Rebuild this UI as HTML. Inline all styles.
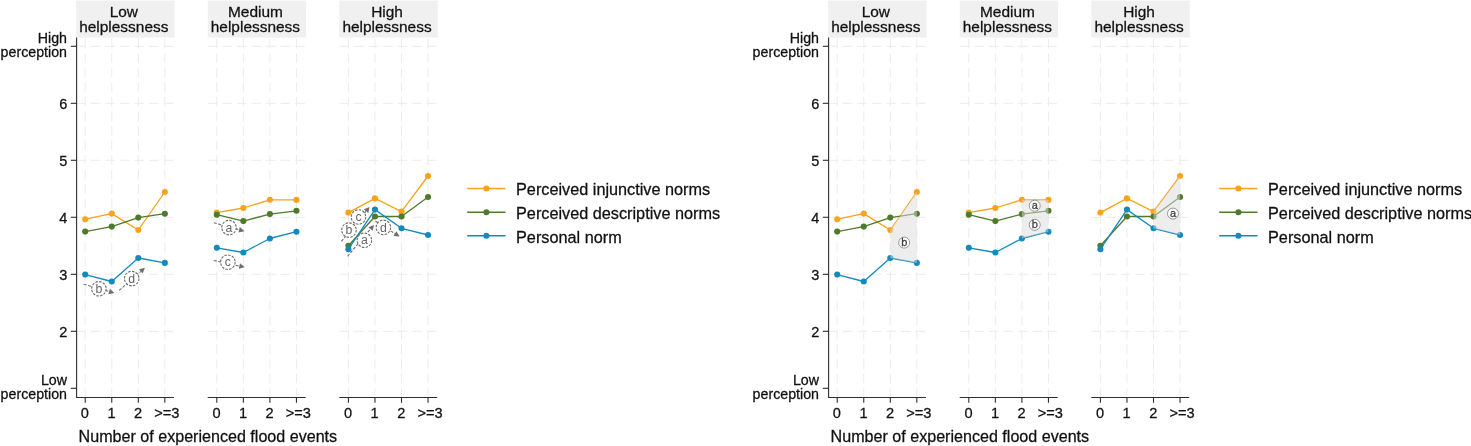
<!DOCTYPE html>
<html><head><meta charset="utf-8"><title>Norm perception by flood experience</title>
<style>html,body{margin:0;padding:0;background:#fff;}svg{display:block;}</style></head>
<body><svg width="1471" height="446" viewBox="0 0 1471 446">
<rect width="1471" height="446" fill="#ffffff"/>
<g transform="translate(0,0)"><rect x="76.1" y="0.6" width="98.4" height="37.0" fill="#f0f0f0"/><text x="123.8" y="17.0" font-size="15.45" text-anchor="middle" fill="#111111" font-family="Liberation Sans, Arial, sans-serif" stroke="#111111" stroke-width="0.27">Low</text><text x="123.8" y="32.4" font-size="15.45" text-anchor="middle" fill="#111111" font-family="Liberation Sans, Arial, sans-serif" stroke="#111111" stroke-width="0.27">helplessness</text><rect x="207.7" y="0.6" width="98.4" height="37.0" fill="#f0f0f0"/><text x="255.4" y="17.0" font-size="15.45" text-anchor="middle" fill="#111111" font-family="Liberation Sans, Arial, sans-serif" stroke="#111111" stroke-width="0.27">Medium</text><text x="255.4" y="32.4" font-size="15.45" text-anchor="middle" fill="#111111" font-family="Liberation Sans, Arial, sans-serif" stroke="#111111" stroke-width="0.27">helplessness</text><rect x="339.3" y="0.6" width="98.4" height="37.0" fill="#f0f0f0"/><text x="387.0" y="17.0" font-size="15.45" text-anchor="middle" fill="#111111" font-family="Liberation Sans, Arial, sans-serif" stroke="#111111" stroke-width="0.27">High</text><text x="387.0" y="32.4" font-size="15.45" text-anchor="middle" fill="#111111" font-family="Liberation Sans, Arial, sans-serif" stroke="#111111" stroke-width="0.27">helplessness</text><line x1="76.2" y1="46.3" x2="174.0" y2="46.3" stroke="#ececec" stroke-width="1" stroke-dasharray="9.7 4.86"/><line x1="76.2" y1="103.3" x2="174.0" y2="103.3" stroke="#ececec" stroke-width="1" stroke-dasharray="9.7 4.86"/><line x1="76.2" y1="160.3" x2="174.0" y2="160.3" stroke="#ececec" stroke-width="1" stroke-dasharray="9.7 4.86"/><line x1="76.2" y1="217.3" x2="174.0" y2="217.3" stroke="#ececec" stroke-width="1" stroke-dasharray="9.7 4.86"/><line x1="76.2" y1="274.3" x2="174.0" y2="274.3" stroke="#ececec" stroke-width="1" stroke-dasharray="9.7 4.86"/><line x1="76.2" y1="331.3" x2="174.0" y2="331.3" stroke="#ececec" stroke-width="1" stroke-dasharray="9.7 4.86"/><line x1="85.20" y1="38.7" x2="85.20" y2="396.8" stroke="#ececec" stroke-width="1" stroke-dasharray="9.7 4.86"/><line x1="111.75" y1="38.7" x2="111.75" y2="396.8" stroke="#ececec" stroke-width="1" stroke-dasharray="9.7 4.86"/><line x1="138.30" y1="38.7" x2="138.30" y2="396.8" stroke="#ececec" stroke-width="1" stroke-dasharray="9.7 4.86"/><line x1="164.85" y1="38.7" x2="164.85" y2="396.8" stroke="#ececec" stroke-width="1" stroke-dasharray="9.7 4.86"/><line x1="207.8" y1="46.3" x2="305.6" y2="46.3" stroke="#ececec" stroke-width="1" stroke-dasharray="9.7 4.86"/><line x1="207.8" y1="103.3" x2="305.6" y2="103.3" stroke="#ececec" stroke-width="1" stroke-dasharray="9.7 4.86"/><line x1="207.8" y1="160.3" x2="305.6" y2="160.3" stroke="#ececec" stroke-width="1" stroke-dasharray="9.7 4.86"/><line x1="207.8" y1="217.3" x2="305.6" y2="217.3" stroke="#ececec" stroke-width="1" stroke-dasharray="9.7 4.86"/><line x1="207.8" y1="274.3" x2="305.6" y2="274.3" stroke="#ececec" stroke-width="1" stroke-dasharray="9.7 4.86"/><line x1="207.8" y1="331.3" x2="305.6" y2="331.3" stroke="#ececec" stroke-width="1" stroke-dasharray="9.7 4.86"/><line x1="216.80" y1="38.7" x2="216.80" y2="396.8" stroke="#ececec" stroke-width="1" stroke-dasharray="9.7 4.86"/><line x1="243.35" y1="38.7" x2="243.35" y2="396.8" stroke="#ececec" stroke-width="1" stroke-dasharray="9.7 4.86"/><line x1="269.90" y1="38.7" x2="269.90" y2="396.8" stroke="#ececec" stroke-width="1" stroke-dasharray="9.7 4.86"/><line x1="296.45" y1="38.7" x2="296.45" y2="396.8" stroke="#ececec" stroke-width="1" stroke-dasharray="9.7 4.86"/><line x1="339.4" y1="46.3" x2="437.2" y2="46.3" stroke="#ececec" stroke-width="1" stroke-dasharray="9.7 4.86"/><line x1="339.4" y1="103.3" x2="437.2" y2="103.3" stroke="#ececec" stroke-width="1" stroke-dasharray="9.7 4.86"/><line x1="339.4" y1="160.3" x2="437.2" y2="160.3" stroke="#ececec" stroke-width="1" stroke-dasharray="9.7 4.86"/><line x1="339.4" y1="217.3" x2="437.2" y2="217.3" stroke="#ececec" stroke-width="1" stroke-dasharray="9.7 4.86"/><line x1="339.4" y1="274.3" x2="437.2" y2="274.3" stroke="#ececec" stroke-width="1" stroke-dasharray="9.7 4.86"/><line x1="339.4" y1="331.3" x2="437.2" y2="331.3" stroke="#ececec" stroke-width="1" stroke-dasharray="9.7 4.86"/><line x1="348.40" y1="38.7" x2="348.40" y2="396.8" stroke="#ececec" stroke-width="1" stroke-dasharray="9.7 4.86"/><line x1="374.95" y1="38.7" x2="374.95" y2="396.8" stroke="#ececec" stroke-width="1" stroke-dasharray="9.7 4.86"/><line x1="401.50" y1="38.7" x2="401.50" y2="396.8" stroke="#ececec" stroke-width="1" stroke-dasharray="9.7 4.86"/><line x1="428.05" y1="38.7" x2="428.05" y2="396.8" stroke="#ececec" stroke-width="1" stroke-dasharray="9.7 4.86"/><line x1="76.6" y1="37.6" x2="76.6" y2="397.8" stroke="#2e2e2e" stroke-width="1.1"/><line x1="70.8" y1="46.3" x2="76.6" y2="46.3" stroke="#2e2e2e" stroke-width="1.1"/><line x1="70.8" y1="103.3" x2="76.6" y2="103.3" stroke="#2e2e2e" stroke-width="1.1"/><line x1="70.8" y1="160.3" x2="76.6" y2="160.3" stroke="#2e2e2e" stroke-width="1.1"/><line x1="70.8" y1="217.3" x2="76.6" y2="217.3" stroke="#2e2e2e" stroke-width="1.1"/><line x1="70.8" y1="274.3" x2="76.6" y2="274.3" stroke="#2e2e2e" stroke-width="1.1"/><line x1="70.8" y1="331.3" x2="76.6" y2="331.3" stroke="#2e2e2e" stroke-width="1.1"/><line x1="70.8" y1="388.3" x2="76.6" y2="388.3" stroke="#2e2e2e" stroke-width="1.1"/><text x="67.4" y="108.6" font-size="14.5" text-anchor="end" fill="#111111" font-family="Liberation Sans, Arial, sans-serif" stroke="#111111" stroke-width="0.27">6</text><text x="67.4" y="165.6" font-size="14.5" text-anchor="end" fill="#111111" font-family="Liberation Sans, Arial, sans-serif" stroke="#111111" stroke-width="0.27">5</text><text x="67.4" y="222.6" font-size="14.5" text-anchor="end" fill="#111111" font-family="Liberation Sans, Arial, sans-serif" stroke="#111111" stroke-width="0.27">4</text><text x="67.4" y="279.6" font-size="14.5" text-anchor="end" fill="#111111" font-family="Liberation Sans, Arial, sans-serif" stroke="#111111" stroke-width="0.27">3</text><text x="67.4" y="336.6" font-size="14.5" text-anchor="end" fill="#111111" font-family="Liberation Sans, Arial, sans-serif" stroke="#111111" stroke-width="0.27">2</text><text transform="translate(67.0,42.9) scale(1.035,1)" font-size="13.75" text-anchor="end" fill="#111111" font-family="Liberation Sans, Arial, sans-serif" stroke="#111111" stroke-width="0.27">High</text><text transform="translate(67.0,57.1) scale(1.035,1)" font-size="13.75" text-anchor="end" fill="#111111" font-family="Liberation Sans, Arial, sans-serif" stroke="#111111" stroke-width="0.27">perception</text><text transform="translate(67.0,384.9) scale(1.035,1)" font-size="13.75" text-anchor="end" fill="#111111" font-family="Liberation Sans, Arial, sans-serif" stroke="#111111" stroke-width="0.27">Low</text><text transform="translate(67.0,399.0) scale(1.035,1)" font-size="13.75" text-anchor="end" fill="#111111" font-family="Liberation Sans, Arial, sans-serif" stroke="#111111" stroke-width="0.27">perception</text><line x1="76.1" y1="397.45" x2="174.0" y2="397.45" stroke="#2e2e2e" stroke-width="1.1"/><line x1="85.20" y1="397.3" x2="85.20" y2="402.8" stroke="#2e2e2e" stroke-width="1.1"/><text x="84.9" y="418.2" font-size="14.6" text-anchor="middle" fill="#111111" font-family="Liberation Sans, Arial, sans-serif" stroke="#111111" stroke-width="0.27">0</text><line x1="111.75" y1="397.3" x2="111.75" y2="402.8" stroke="#2e2e2e" stroke-width="1.1"/><text x="111.5" y="418.2" font-size="14.6" text-anchor="middle" fill="#111111" font-family="Liberation Sans, Arial, sans-serif" stroke="#111111" stroke-width="0.27">1</text><line x1="138.30" y1="397.3" x2="138.30" y2="402.8" stroke="#2e2e2e" stroke-width="1.1"/><text x="138.0" y="418.2" font-size="14.6" text-anchor="middle" fill="#111111" font-family="Liberation Sans, Arial, sans-serif" stroke="#111111" stroke-width="0.27">2</text><line x1="164.85" y1="397.3" x2="164.85" y2="402.8" stroke="#2e2e2e" stroke-width="1.1"/><text x="166.8" y="418.2" font-size="14.6" text-anchor="middle" fill="#111111" font-family="Liberation Sans, Arial, sans-serif" stroke="#111111" stroke-width="0.27">&gt;=3</text><line x1="207.7" y1="397.45" x2="305.6" y2="397.45" stroke="#2e2e2e" stroke-width="1.1"/><line x1="216.80" y1="397.3" x2="216.80" y2="402.8" stroke="#2e2e2e" stroke-width="1.1"/><text x="216.5" y="418.2" font-size="14.6" text-anchor="middle" fill="#111111" font-family="Liberation Sans, Arial, sans-serif" stroke="#111111" stroke-width="0.27">0</text><line x1="243.35" y1="397.3" x2="243.35" y2="402.8" stroke="#2e2e2e" stroke-width="1.1"/><text x="243.0" y="418.2" font-size="14.6" text-anchor="middle" fill="#111111" font-family="Liberation Sans, Arial, sans-serif" stroke="#111111" stroke-width="0.27">1</text><line x1="269.90" y1="397.3" x2="269.90" y2="402.8" stroke="#2e2e2e" stroke-width="1.1"/><text x="269.6" y="418.2" font-size="14.6" text-anchor="middle" fill="#111111" font-family="Liberation Sans, Arial, sans-serif" stroke="#111111" stroke-width="0.27">2</text><line x1="296.45" y1="397.3" x2="296.45" y2="402.8" stroke="#2e2e2e" stroke-width="1.1"/><text x="298.4" y="418.2" font-size="14.6" text-anchor="middle" fill="#111111" font-family="Liberation Sans, Arial, sans-serif" stroke="#111111" stroke-width="0.27">&gt;=3</text><line x1="339.3" y1="397.45" x2="437.2" y2="397.45" stroke="#2e2e2e" stroke-width="1.1"/><line x1="348.40" y1="397.3" x2="348.40" y2="402.8" stroke="#2e2e2e" stroke-width="1.1"/><text x="348.1" y="418.2" font-size="14.6" text-anchor="middle" fill="#111111" font-family="Liberation Sans, Arial, sans-serif" stroke="#111111" stroke-width="0.27">0</text><line x1="374.95" y1="397.3" x2="374.95" y2="402.8" stroke="#2e2e2e" stroke-width="1.1"/><text x="374.6" y="418.2" font-size="14.6" text-anchor="middle" fill="#111111" font-family="Liberation Sans, Arial, sans-serif" stroke="#111111" stroke-width="0.27">1</text><line x1="401.50" y1="397.3" x2="401.50" y2="402.8" stroke="#2e2e2e" stroke-width="1.1"/><text x="401.2" y="418.2" font-size="14.6" text-anchor="middle" fill="#111111" font-family="Liberation Sans, Arial, sans-serif" stroke="#111111" stroke-width="0.27">2</text><line x1="428.05" y1="397.3" x2="428.05" y2="402.8" stroke="#2e2e2e" stroke-width="1.1"/><text x="430.1" y="418.2" font-size="14.6" text-anchor="middle" fill="#111111" font-family="Liberation Sans, Arial, sans-serif" stroke="#111111" stroke-width="0.27">&gt;=3</text><text x="78.6" y="442.3" font-size="16.1" fill="#111111" font-family="Liberation Sans, Arial, sans-serif" stroke="#111111" stroke-width="0.27">Number of experienced flood events</text><line x1="83.7" y1="284.2" x2="109.1" y2="291.5" stroke="#6e6e6e" stroke-width="1.1" stroke-dasharray="3 1.5"/><polygon points="114.3,293.0 108.3,294.2 109.9,288.8" fill="#6e6e6e"/><circle cx="98.9" cy="288.8" r="7.25" fill="#ffffff" stroke="#6e6e6e" stroke-width="1.15" stroke-dasharray="2.5 1.3"/><text x="98.9" y="292.9" font-size="12.3" text-anchor="middle" fill="#666666" stroke="#666666" stroke-width="0" font-family="Liberation Sans, Arial, sans-serif">b</text><line x1="119.2" y1="290.4" x2="140.9" y2="271.3" stroke="#6e6e6e" stroke-width="1.1" stroke-dasharray="3 1.5"/><polygon points="144.9,267.7 142.7,273.4 139.0,269.2" fill="#6e6e6e"/><circle cx="131.7" cy="278.6" r="7.25" fill="#ffffff" stroke="#6e6e6e" stroke-width="1.15" stroke-dasharray="2.5 1.3"/><text x="131.7" y="282.7" font-size="12.3" text-anchor="middle" fill="#666666" stroke="#666666" stroke-width="0" font-family="Liberation Sans, Arial, sans-serif">d</text><line x1="213.8" y1="222.7" x2="239.2" y2="229.8" stroke="#6e6e6e" stroke-width="1.1" stroke-dasharray="3 1.5"/><polygon points="244.4,231.2 238.4,232.5 239.9,227.1" fill="#6e6e6e"/><circle cx="229.0" cy="227.6" r="7.25" fill="#ffffff" stroke="#6e6e6e" stroke-width="1.15" stroke-dasharray="2.5 1.3"/><text x="229.0" y="231.7" font-size="12.3" text-anchor="middle" fill="#666666" stroke="#666666" stroke-width="0" font-family="Liberation Sans, Arial, sans-serif">a</text><line x1="213.8" y1="260.5" x2="239.4" y2="266.1" stroke="#6e6e6e" stroke-width="1.1" stroke-dasharray="3 1.5"/><polygon points="244.7,267.2 238.8,268.8 240.0,263.3" fill="#6e6e6e"/><circle cx="227.9" cy="262.2" r="7.25" fill="#ffffff" stroke="#6e6e6e" stroke-width="1.15" stroke-dasharray="2.5 1.3"/><text x="227.9" y="266.3" font-size="12.3" text-anchor="middle" fill="#666666" stroke="#666666" stroke-width="0" font-family="Liberation Sans, Arial, sans-serif">c</text><line x1="341.4" y1="241.4" x2="366.1" y2="211.1" stroke="#6e6e6e" stroke-width="1.1" stroke-dasharray="3 1.5"/><polygon points="369.5,206.9 368.3,212.9 363.9,209.3" fill="#6e6e6e"/><circle cx="349.0" cy="230.1" r="7.25" fill="#ffffff" stroke="#6e6e6e" stroke-width="1.15" stroke-dasharray="2.5 1.3"/><text x="349.0" y="234.2" font-size="12.3" text-anchor="middle" fill="#666666" stroke="#666666" stroke-width="0" font-family="Liberation Sans, Arial, sans-serif">b</text><circle cx="358.5" cy="217.0" r="7.25" fill="#ffffff" stroke="#6e6e6e" stroke-width="1.15" stroke-dasharray="2.5 1.3"/><text x="358.5" y="221.1" font-size="12.3" text-anchor="middle" fill="#666666" stroke="#666666" stroke-width="0" font-family="Liberation Sans, Arial, sans-serif">c</text><line x1="347.6" y1="256.3" x2="370.5" y2="229.0" stroke="#6e6e6e" stroke-width="1.1" stroke-dasharray="3 1.5"/><polygon points="374.0,224.9 372.7,230.8 368.4,227.2" fill="#6e6e6e"/><circle cx="364.4" cy="240.3" r="7.25" fill="#ffffff" stroke="#6e6e6e" stroke-width="1.15" stroke-dasharray="2.5 1.3"/><text x="364.4" y="244.4" font-size="12.3" text-anchor="middle" fill="#666666" stroke="#666666" stroke-width="0" font-family="Liberation Sans, Arial, sans-serif">a</text><line x1="375.5" y1="221.2" x2="395.0" y2="233.6" stroke="#6e6e6e" stroke-width="1.1" stroke-dasharray="3 1.5"/><polygon points="399.6,236.5 393.5,236.0 396.5,231.2" fill="#6e6e6e"/><circle cx="383.4" cy="227.4" r="7.25" fill="#ffffff" stroke="#6e6e6e" stroke-width="1.15" stroke-dasharray="2.5 1.3"/><text x="383.4" y="231.5" font-size="12.3" text-anchor="middle" fill="#666666" stroke="#666666" stroke-width="0" font-family="Liberation Sans, Arial, sans-serif">d</text><polyline points="85.20,219.2 111.75,213.6 138.30,230.0 164.85,192.0" fill="none" stroke="#F9A21B" stroke-width="1.3" stroke-linejoin="round"/><circle cx="85.20" cy="219.2" r="3.05" fill="#F9A21B"/><circle cx="111.75" cy="213.6" r="3.05" fill="#F9A21B"/><circle cx="138.30" cy="230.0" r="3.05" fill="#F9A21B"/><circle cx="164.85" cy="192.0" r="3.05" fill="#F9A21B"/><polyline points="85.20,231.6 111.75,226.6 138.30,217.6 164.85,213.7" fill="none" stroke="#4F7A2B" stroke-width="1.3" stroke-linejoin="round"/><circle cx="85.20" cy="231.6" r="3.05" fill="#4F7A2B"/><circle cx="111.75" cy="226.6" r="3.05" fill="#4F7A2B"/><circle cx="138.30" cy="217.6" r="3.05" fill="#4F7A2B"/><circle cx="164.85" cy="213.7" r="3.05" fill="#4F7A2B"/><polyline points="85.20,274.6 111.75,281.5 138.30,258.0 164.85,262.9" fill="none" stroke="#128ABE" stroke-width="1.3" stroke-linejoin="round"/><circle cx="85.20" cy="274.6" r="3.05" fill="#128ABE"/><circle cx="111.75" cy="281.5" r="3.05" fill="#128ABE"/><circle cx="138.30" cy="258.0" r="3.05" fill="#128ABE"/><circle cx="164.85" cy="262.9" r="3.05" fill="#128ABE"/><polyline points="216.80,212.6 243.35,208.0 269.90,199.8 296.45,199.9" fill="none" stroke="#F9A21B" stroke-width="1.3" stroke-linejoin="round"/><circle cx="216.80" cy="212.6" r="3.05" fill="#F9A21B"/><circle cx="243.35" cy="208.0" r="3.05" fill="#F9A21B"/><circle cx="269.90" cy="199.8" r="3.05" fill="#F9A21B"/><circle cx="296.45" cy="199.9" r="3.05" fill="#F9A21B"/><polyline points="216.80,214.7 243.35,221.1 269.90,214.1 296.45,210.8" fill="none" stroke="#4F7A2B" stroke-width="1.3" stroke-linejoin="round"/><circle cx="216.80" cy="214.7" r="3.05" fill="#4F7A2B"/><circle cx="243.35" cy="221.1" r="3.05" fill="#4F7A2B"/><circle cx="269.90" cy="214.1" r="3.05" fill="#4F7A2B"/><circle cx="296.45" cy="210.8" r="3.05" fill="#4F7A2B"/><polyline points="216.80,247.8 243.35,252.5 269.90,238.5 296.45,231.7" fill="none" stroke="#128ABE" stroke-width="1.3" stroke-linejoin="round"/><circle cx="216.80" cy="247.8" r="3.05" fill="#128ABE"/><circle cx="243.35" cy="252.5" r="3.05" fill="#128ABE"/><circle cx="269.90" cy="238.5" r="3.05" fill="#128ABE"/><circle cx="296.45" cy="231.7" r="3.05" fill="#128ABE"/><polyline points="348.40,212.6 374.95,198.4 401.50,211.6 428.05,176.0" fill="none" stroke="#F9A21B" stroke-width="1.3" stroke-linejoin="round"/><circle cx="348.40" cy="212.6" r="3.05" fill="#F9A21B"/><circle cx="374.95" cy="198.4" r="3.05" fill="#F9A21B"/><circle cx="401.50" cy="211.6" r="3.05" fill="#F9A21B"/><circle cx="428.05" cy="176.0" r="3.05" fill="#F9A21B"/><polyline points="348.40,245.8 374.95,216.5 401.50,216.5 428.05,197.0" fill="none" stroke="#4F7A2B" stroke-width="1.3" stroke-linejoin="round"/><circle cx="348.40" cy="245.8" r="3.05" fill="#4F7A2B"/><circle cx="374.95" cy="216.5" r="3.05" fill="#4F7A2B"/><circle cx="401.50" cy="216.5" r="3.05" fill="#4F7A2B"/><circle cx="428.05" cy="197.0" r="3.05" fill="#4F7A2B"/><polyline points="348.40,249.2 374.95,209.6 401.50,228.3 428.05,235.0" fill="none" stroke="#128ABE" stroke-width="1.3" stroke-linejoin="round"/><circle cx="348.40" cy="249.2" r="3.05" fill="#128ABE"/><circle cx="374.95" cy="209.6" r="3.05" fill="#128ABE"/><circle cx="401.50" cy="228.3" r="3.05" fill="#128ABE"/><circle cx="428.05" cy="235.0" r="3.05" fill="#128ABE"/><line x1="467.2" y1="188.5" x2="505.5" y2="188.5" stroke="#F9A21B" stroke-width="1.4"/><circle cx="486.4" cy="188.5" r="3.05" fill="#F9A21B"/><text x="516.0" y="195.4" font-size="16.25" fill="#111111" font-family="Liberation Sans, Arial, sans-serif" stroke="#111111" stroke-width="0.27">Perceived injunctive norms</text><line x1="467.2" y1="212.2" x2="505.5" y2="212.2" stroke="#4F7A2B" stroke-width="1.4"/><circle cx="486.4" cy="212.2" r="3.05" fill="#4F7A2B"/><text x="516.0" y="219.1" font-size="16.25" fill="#111111" font-family="Liberation Sans, Arial, sans-serif" stroke="#111111" stroke-width="0.27">Perceived descriptive norms</text><line x1="467.2" y1="235.8" x2="505.5" y2="235.8" stroke="#128ABE" stroke-width="1.4"/><circle cx="486.4" cy="235.8" r="3.05" fill="#128ABE"/><text x="516.0" y="242.7" font-size="16.25" fill="#111111" font-family="Liberation Sans, Arial, sans-serif" stroke="#111111" stroke-width="0.27">Personal norm</text></g>
<g transform="translate(752,0)"><rect x="76.1" y="0.6" width="98.4" height="37.0" fill="#f0f0f0"/><text x="123.8" y="17.0" font-size="15.45" text-anchor="middle" fill="#111111" font-family="Liberation Sans, Arial, sans-serif" stroke="#111111" stroke-width="0.27">Low</text><text x="123.8" y="32.4" font-size="15.45" text-anchor="middle" fill="#111111" font-family="Liberation Sans, Arial, sans-serif" stroke="#111111" stroke-width="0.27">helplessness</text><rect x="207.7" y="0.6" width="98.4" height="37.0" fill="#f0f0f0"/><text x="255.4" y="17.0" font-size="15.45" text-anchor="middle" fill="#111111" font-family="Liberation Sans, Arial, sans-serif" stroke="#111111" stroke-width="0.27">Medium</text><text x="255.4" y="32.4" font-size="15.45" text-anchor="middle" fill="#111111" font-family="Liberation Sans, Arial, sans-serif" stroke="#111111" stroke-width="0.27">helplessness</text><rect x="339.3" y="0.6" width="98.4" height="37.0" fill="#f0f0f0"/><text x="387.0" y="17.0" font-size="15.45" text-anchor="middle" fill="#111111" font-family="Liberation Sans, Arial, sans-serif" stroke="#111111" stroke-width="0.27">High</text><text x="387.0" y="32.4" font-size="15.45" text-anchor="middle" fill="#111111" font-family="Liberation Sans, Arial, sans-serif" stroke="#111111" stroke-width="0.27">helplessness</text><line x1="76.2" y1="46.3" x2="174.0" y2="46.3" stroke="#ececec" stroke-width="1" stroke-dasharray="9.7 4.86"/><line x1="76.2" y1="103.3" x2="174.0" y2="103.3" stroke="#ececec" stroke-width="1" stroke-dasharray="9.7 4.86"/><line x1="76.2" y1="160.3" x2="174.0" y2="160.3" stroke="#ececec" stroke-width="1" stroke-dasharray="9.7 4.86"/><line x1="76.2" y1="217.3" x2="174.0" y2="217.3" stroke="#ececec" stroke-width="1" stroke-dasharray="9.7 4.86"/><line x1="76.2" y1="274.3" x2="174.0" y2="274.3" stroke="#ececec" stroke-width="1" stroke-dasharray="9.7 4.86"/><line x1="76.2" y1="331.3" x2="174.0" y2="331.3" stroke="#ececec" stroke-width="1" stroke-dasharray="9.7 4.86"/><line x1="85.20" y1="38.7" x2="85.20" y2="396.8" stroke="#ececec" stroke-width="1" stroke-dasharray="9.7 4.86"/><line x1="111.75" y1="38.7" x2="111.75" y2="396.8" stroke="#ececec" stroke-width="1" stroke-dasharray="9.7 4.86"/><line x1="138.30" y1="38.7" x2="138.30" y2="396.8" stroke="#ececec" stroke-width="1" stroke-dasharray="9.7 4.86"/><line x1="164.85" y1="38.7" x2="164.85" y2="396.8" stroke="#ececec" stroke-width="1" stroke-dasharray="9.7 4.86"/><line x1="207.8" y1="46.3" x2="305.6" y2="46.3" stroke="#ececec" stroke-width="1" stroke-dasharray="9.7 4.86"/><line x1="207.8" y1="103.3" x2="305.6" y2="103.3" stroke="#ececec" stroke-width="1" stroke-dasharray="9.7 4.86"/><line x1="207.8" y1="160.3" x2="305.6" y2="160.3" stroke="#ececec" stroke-width="1" stroke-dasharray="9.7 4.86"/><line x1="207.8" y1="217.3" x2="305.6" y2="217.3" stroke="#ececec" stroke-width="1" stroke-dasharray="9.7 4.86"/><line x1="207.8" y1="274.3" x2="305.6" y2="274.3" stroke="#ececec" stroke-width="1" stroke-dasharray="9.7 4.86"/><line x1="207.8" y1="331.3" x2="305.6" y2="331.3" stroke="#ececec" stroke-width="1" stroke-dasharray="9.7 4.86"/><line x1="216.80" y1="38.7" x2="216.80" y2="396.8" stroke="#ececec" stroke-width="1" stroke-dasharray="9.7 4.86"/><line x1="243.35" y1="38.7" x2="243.35" y2="396.8" stroke="#ececec" stroke-width="1" stroke-dasharray="9.7 4.86"/><line x1="269.90" y1="38.7" x2="269.90" y2="396.8" stroke="#ececec" stroke-width="1" stroke-dasharray="9.7 4.86"/><line x1="296.45" y1="38.7" x2="296.45" y2="396.8" stroke="#ececec" stroke-width="1" stroke-dasharray="9.7 4.86"/><line x1="339.4" y1="46.3" x2="437.2" y2="46.3" stroke="#ececec" stroke-width="1" stroke-dasharray="9.7 4.86"/><line x1="339.4" y1="103.3" x2="437.2" y2="103.3" stroke="#ececec" stroke-width="1" stroke-dasharray="9.7 4.86"/><line x1="339.4" y1="160.3" x2="437.2" y2="160.3" stroke="#ececec" stroke-width="1" stroke-dasharray="9.7 4.86"/><line x1="339.4" y1="217.3" x2="437.2" y2="217.3" stroke="#ececec" stroke-width="1" stroke-dasharray="9.7 4.86"/><line x1="339.4" y1="274.3" x2="437.2" y2="274.3" stroke="#ececec" stroke-width="1" stroke-dasharray="9.7 4.86"/><line x1="339.4" y1="331.3" x2="437.2" y2="331.3" stroke="#ececec" stroke-width="1" stroke-dasharray="9.7 4.86"/><line x1="348.40" y1="38.7" x2="348.40" y2="396.8" stroke="#ececec" stroke-width="1" stroke-dasharray="9.7 4.86"/><line x1="374.95" y1="38.7" x2="374.95" y2="396.8" stroke="#ececec" stroke-width="1" stroke-dasharray="9.7 4.86"/><line x1="401.50" y1="38.7" x2="401.50" y2="396.8" stroke="#ececec" stroke-width="1" stroke-dasharray="9.7 4.86"/><line x1="428.05" y1="38.7" x2="428.05" y2="396.8" stroke="#ececec" stroke-width="1" stroke-dasharray="9.7 4.86"/><line x1="76.6" y1="37.6" x2="76.6" y2="397.8" stroke="#2e2e2e" stroke-width="1.1"/><line x1="70.8" y1="46.3" x2="76.6" y2="46.3" stroke="#2e2e2e" stroke-width="1.1"/><line x1="70.8" y1="103.3" x2="76.6" y2="103.3" stroke="#2e2e2e" stroke-width="1.1"/><line x1="70.8" y1="160.3" x2="76.6" y2="160.3" stroke="#2e2e2e" stroke-width="1.1"/><line x1="70.8" y1="217.3" x2="76.6" y2="217.3" stroke="#2e2e2e" stroke-width="1.1"/><line x1="70.8" y1="274.3" x2="76.6" y2="274.3" stroke="#2e2e2e" stroke-width="1.1"/><line x1="70.8" y1="331.3" x2="76.6" y2="331.3" stroke="#2e2e2e" stroke-width="1.1"/><line x1="70.8" y1="388.3" x2="76.6" y2="388.3" stroke="#2e2e2e" stroke-width="1.1"/><text x="67.4" y="108.6" font-size="14.5" text-anchor="end" fill="#111111" font-family="Liberation Sans, Arial, sans-serif" stroke="#111111" stroke-width="0.27">6</text><text x="67.4" y="165.6" font-size="14.5" text-anchor="end" fill="#111111" font-family="Liberation Sans, Arial, sans-serif" stroke="#111111" stroke-width="0.27">5</text><text x="67.4" y="222.6" font-size="14.5" text-anchor="end" fill="#111111" font-family="Liberation Sans, Arial, sans-serif" stroke="#111111" stroke-width="0.27">4</text><text x="67.4" y="279.6" font-size="14.5" text-anchor="end" fill="#111111" font-family="Liberation Sans, Arial, sans-serif" stroke="#111111" stroke-width="0.27">3</text><text x="67.4" y="336.6" font-size="14.5" text-anchor="end" fill="#111111" font-family="Liberation Sans, Arial, sans-serif" stroke="#111111" stroke-width="0.27">2</text><text transform="translate(67.0,42.9) scale(1.035,1)" font-size="13.75" text-anchor="end" fill="#111111" font-family="Liberation Sans, Arial, sans-serif" stroke="#111111" stroke-width="0.27">High</text><text transform="translate(67.0,57.1) scale(1.035,1)" font-size="13.75" text-anchor="end" fill="#111111" font-family="Liberation Sans, Arial, sans-serif" stroke="#111111" stroke-width="0.27">perception</text><text transform="translate(67.0,384.9) scale(1.035,1)" font-size="13.75" text-anchor="end" fill="#111111" font-family="Liberation Sans, Arial, sans-serif" stroke="#111111" stroke-width="0.27">Low</text><text transform="translate(67.0,399.0) scale(1.035,1)" font-size="13.75" text-anchor="end" fill="#111111" font-family="Liberation Sans, Arial, sans-serif" stroke="#111111" stroke-width="0.27">perception</text><line x1="76.1" y1="397.45" x2="174.0" y2="397.45" stroke="#2e2e2e" stroke-width="1.1"/><line x1="85.20" y1="397.3" x2="85.20" y2="402.8" stroke="#2e2e2e" stroke-width="1.1"/><text x="84.9" y="418.2" font-size="14.6" text-anchor="middle" fill="#111111" font-family="Liberation Sans, Arial, sans-serif" stroke="#111111" stroke-width="0.27">0</text><line x1="111.75" y1="397.3" x2="111.75" y2="402.8" stroke="#2e2e2e" stroke-width="1.1"/><text x="111.5" y="418.2" font-size="14.6" text-anchor="middle" fill="#111111" font-family="Liberation Sans, Arial, sans-serif" stroke="#111111" stroke-width="0.27">1</text><line x1="138.30" y1="397.3" x2="138.30" y2="402.8" stroke="#2e2e2e" stroke-width="1.1"/><text x="138.0" y="418.2" font-size="14.6" text-anchor="middle" fill="#111111" font-family="Liberation Sans, Arial, sans-serif" stroke="#111111" stroke-width="0.27">2</text><line x1="164.85" y1="397.3" x2="164.85" y2="402.8" stroke="#2e2e2e" stroke-width="1.1"/><text x="166.8" y="418.2" font-size="14.6" text-anchor="middle" fill="#111111" font-family="Liberation Sans, Arial, sans-serif" stroke="#111111" stroke-width="0.27">&gt;=3</text><line x1="207.7" y1="397.45" x2="305.6" y2="397.45" stroke="#2e2e2e" stroke-width="1.1"/><line x1="216.80" y1="397.3" x2="216.80" y2="402.8" stroke="#2e2e2e" stroke-width="1.1"/><text x="216.5" y="418.2" font-size="14.6" text-anchor="middle" fill="#111111" font-family="Liberation Sans, Arial, sans-serif" stroke="#111111" stroke-width="0.27">0</text><line x1="243.35" y1="397.3" x2="243.35" y2="402.8" stroke="#2e2e2e" stroke-width="1.1"/><text x="243.0" y="418.2" font-size="14.6" text-anchor="middle" fill="#111111" font-family="Liberation Sans, Arial, sans-serif" stroke="#111111" stroke-width="0.27">1</text><line x1="269.90" y1="397.3" x2="269.90" y2="402.8" stroke="#2e2e2e" stroke-width="1.1"/><text x="269.6" y="418.2" font-size="14.6" text-anchor="middle" fill="#111111" font-family="Liberation Sans, Arial, sans-serif" stroke="#111111" stroke-width="0.27">2</text><line x1="296.45" y1="397.3" x2="296.45" y2="402.8" stroke="#2e2e2e" stroke-width="1.1"/><text x="298.4" y="418.2" font-size="14.6" text-anchor="middle" fill="#111111" font-family="Liberation Sans, Arial, sans-serif" stroke="#111111" stroke-width="0.27">&gt;=3</text><line x1="339.3" y1="397.45" x2="437.2" y2="397.45" stroke="#2e2e2e" stroke-width="1.1"/><line x1="348.40" y1="397.3" x2="348.40" y2="402.8" stroke="#2e2e2e" stroke-width="1.1"/><text x="348.1" y="418.2" font-size="14.6" text-anchor="middle" fill="#111111" font-family="Liberation Sans, Arial, sans-serif" stroke="#111111" stroke-width="0.27">0</text><line x1="374.95" y1="397.3" x2="374.95" y2="402.8" stroke="#2e2e2e" stroke-width="1.1"/><text x="374.6" y="418.2" font-size="14.6" text-anchor="middle" fill="#111111" font-family="Liberation Sans, Arial, sans-serif" stroke="#111111" stroke-width="0.27">1</text><line x1="401.50" y1="397.3" x2="401.50" y2="402.8" stroke="#2e2e2e" stroke-width="1.1"/><text x="401.2" y="418.2" font-size="14.6" text-anchor="middle" fill="#111111" font-family="Liberation Sans, Arial, sans-serif" stroke="#111111" stroke-width="0.27">2</text><line x1="428.05" y1="397.3" x2="428.05" y2="402.8" stroke="#2e2e2e" stroke-width="1.1"/><text x="430.1" y="418.2" font-size="14.6" text-anchor="middle" fill="#111111" font-family="Liberation Sans, Arial, sans-serif" stroke="#111111" stroke-width="0.27">&gt;=3</text><text x="78.6" y="442.3" font-size="16.1" fill="#111111" font-family="Liberation Sans, Arial, sans-serif" stroke="#111111" stroke-width="0.27">Number of experienced flood events</text><polyline points="85.20,219.2 111.75,213.6 138.30,230.0 164.85,192.0" fill="none" stroke="#F9A21B" stroke-width="1.3" stroke-linejoin="round"/><circle cx="85.20" cy="219.2" r="3.05" fill="#F9A21B"/><circle cx="111.75" cy="213.6" r="3.05" fill="#F9A21B"/><circle cx="138.30" cy="230.0" r="3.05" fill="#F9A21B"/><circle cx="164.85" cy="192.0" r="3.05" fill="#F9A21B"/><polyline points="85.20,231.6 111.75,226.6 138.30,217.6 164.85,213.7" fill="none" stroke="#4F7A2B" stroke-width="1.3" stroke-linejoin="round"/><circle cx="85.20" cy="231.6" r="3.05" fill="#4F7A2B"/><circle cx="111.75" cy="226.6" r="3.05" fill="#4F7A2B"/><circle cx="138.30" cy="217.6" r="3.05" fill="#4F7A2B"/><circle cx="164.85" cy="213.7" r="3.05" fill="#4F7A2B"/><polyline points="85.20,274.6 111.75,281.5 138.30,258.0 164.85,262.9" fill="none" stroke="#128ABE" stroke-width="1.3" stroke-linejoin="round"/><circle cx="85.20" cy="274.6" r="3.05" fill="#128ABE"/><circle cx="111.75" cy="281.5" r="3.05" fill="#128ABE"/><circle cx="138.30" cy="258.0" r="3.05" fill="#128ABE"/><circle cx="164.85" cy="262.9" r="3.05" fill="#128ABE"/><polyline points="216.80,212.6 243.35,208.0 269.90,199.8 296.45,199.9" fill="none" stroke="#F9A21B" stroke-width="1.3" stroke-linejoin="round"/><circle cx="216.80" cy="212.6" r="3.05" fill="#F9A21B"/><circle cx="243.35" cy="208.0" r="3.05" fill="#F9A21B"/><circle cx="269.90" cy="199.8" r="3.05" fill="#F9A21B"/><circle cx="296.45" cy="199.9" r="3.05" fill="#F9A21B"/><polyline points="216.80,214.7 243.35,221.1 269.90,214.1 296.45,210.8" fill="none" stroke="#4F7A2B" stroke-width="1.3" stroke-linejoin="round"/><circle cx="216.80" cy="214.7" r="3.05" fill="#4F7A2B"/><circle cx="243.35" cy="221.1" r="3.05" fill="#4F7A2B"/><circle cx="269.90" cy="214.1" r="3.05" fill="#4F7A2B"/><circle cx="296.45" cy="210.8" r="3.05" fill="#4F7A2B"/><polyline points="216.80,247.8 243.35,252.5 269.90,238.5 296.45,231.7" fill="none" stroke="#128ABE" stroke-width="1.3" stroke-linejoin="round"/><circle cx="216.80" cy="247.8" r="3.05" fill="#128ABE"/><circle cx="243.35" cy="252.5" r="3.05" fill="#128ABE"/><circle cx="269.90" cy="238.5" r="3.05" fill="#128ABE"/><circle cx="296.45" cy="231.7" r="3.05" fill="#128ABE"/><polyline points="348.40,212.6 374.95,198.4 401.50,211.6 428.05,176.0" fill="none" stroke="#F9A21B" stroke-width="1.3" stroke-linejoin="round"/><circle cx="348.40" cy="212.6" r="3.05" fill="#F9A21B"/><circle cx="374.95" cy="198.4" r="3.05" fill="#F9A21B"/><circle cx="401.50" cy="211.6" r="3.05" fill="#F9A21B"/><circle cx="428.05" cy="176.0" r="3.05" fill="#F9A21B"/><polyline points="348.40,245.8 374.95,216.5 401.50,216.5 428.05,197.0" fill="none" stroke="#4F7A2B" stroke-width="1.3" stroke-linejoin="round"/><circle cx="348.40" cy="245.8" r="3.05" fill="#4F7A2B"/><circle cx="374.95" cy="216.5" r="3.05" fill="#4F7A2B"/><circle cx="401.50" cy="216.5" r="3.05" fill="#4F7A2B"/><circle cx="428.05" cy="197.0" r="3.05" fill="#4F7A2B"/><polyline points="348.40,249.2 374.95,209.6 401.50,228.3 428.05,235.0" fill="none" stroke="#128ABE" stroke-width="1.3" stroke-linejoin="round"/><circle cx="348.40" cy="249.2" r="3.05" fill="#128ABE"/><circle cx="374.95" cy="209.6" r="3.05" fill="#128ABE"/><circle cx="401.50" cy="228.3" r="3.05" fill="#128ABE"/><circle cx="428.05" cy="235.0" r="3.05" fill="#128ABE"/><polygon points="138.3,230.0 164.8,192.0 164.8,262.9 138.3,258.0" fill="#dcdcdc" fill-opacity="0.5"/><polygon points="269.9,199.8 296.4,199.9 296.4,231.7 269.9,238.5" fill="#dcdcdc" fill-opacity="0.5"/><polygon points="401.5,211.6 428.1,176.0 428.1,235.0 401.5,228.3" fill="#dcdcdc" fill-opacity="0.5"/><circle cx="152.2" cy="242.6" r="5.5" fill="#ffffff" stroke="#6e6e6e" stroke-width="0.7"/><text x="152.2" y="246.2" font-size="11" text-anchor="middle" fill="#444444" stroke="#444444" stroke-width="0.3" font-family="Liberation Sans, Arial, sans-serif">b</text><circle cx="282.7" cy="205.7" r="5.5" fill="#ffffff" stroke="#6e6e6e" stroke-width="0.7"/><text x="282.7" y="209.3" font-size="11" text-anchor="middle" fill="#444444" stroke="#444444" stroke-width="0.3" font-family="Liberation Sans, Arial, sans-serif">a</text><circle cx="282.7" cy="224.8" r="5.5" fill="#ffffff" stroke="#6e6e6e" stroke-width="0.7"/><text x="282.7" y="228.4" font-size="11" text-anchor="middle" fill="#444444" stroke="#444444" stroke-width="0.3" font-family="Liberation Sans, Arial, sans-serif">b</text><circle cx="421.0" cy="213.6" r="5.5" fill="#ffffff" stroke="#6e6e6e" stroke-width="0.7"/><text x="421.0" y="217.2" font-size="11" text-anchor="middle" fill="#444444" stroke="#444444" stroke-width="0.3" font-family="Liberation Sans, Arial, sans-serif">a</text><line x1="467.2" y1="188.5" x2="505.5" y2="188.5" stroke="#F9A21B" stroke-width="1.4"/><circle cx="486.4" cy="188.5" r="3.05" fill="#F9A21B"/><text x="516.0" y="195.4" font-size="16.25" fill="#111111" font-family="Liberation Sans, Arial, sans-serif" stroke="#111111" stroke-width="0.27">Perceived injunctive norms</text><line x1="467.2" y1="212.2" x2="505.5" y2="212.2" stroke="#4F7A2B" stroke-width="1.4"/><circle cx="486.4" cy="212.2" r="3.05" fill="#4F7A2B"/><text x="516.0" y="219.1" font-size="16.25" fill="#111111" font-family="Liberation Sans, Arial, sans-serif" stroke="#111111" stroke-width="0.27">Perceived descriptive norms</text><line x1="467.2" y1="235.8" x2="505.5" y2="235.8" stroke="#128ABE" stroke-width="1.4"/><circle cx="486.4" cy="235.8" r="3.05" fill="#128ABE"/><text x="516.0" y="242.7" font-size="16.25" fill="#111111" font-family="Liberation Sans, Arial, sans-serif" stroke="#111111" stroke-width="0.27">Personal norm</text></g>
</svg></body></html>
